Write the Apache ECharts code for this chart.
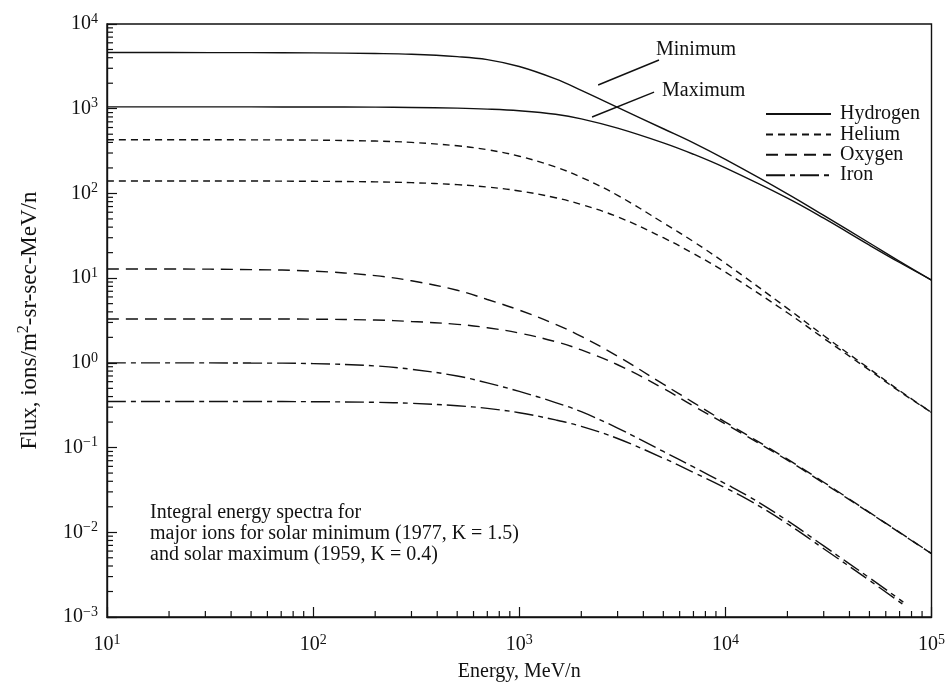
<!DOCTYPE html>
<html><head><meta charset="utf-8">
<script src="https://cdn.jsdelivr.net/npm/echarts@6/dist/echarts.min.js"></script>
<style>html,body{margin:0;padding:0;background:#fff}#c{width:948px;height:689px}</style>
</head><body><div id="c"></div>
<script>
// ---- data ----
const energy = [10, 20, 50, 100, 200, 300, 500, 700, 1000, 1500, 2000, 3000, 5000, 7000, 10000, 20000, 30000, 50000, 70000, 100000];
const hydrogenMin = [4600, 4600, 4590, 4560, 4480, 4390, 4120, 3800, 3150, 2250, 1650, 1040, 580, 395, 252, 99, 55, 26, 15.8, 9.5];
const hydrogenMax = [1050, 1050, 1050, 1048, 1043, 1035, 1015, 990, 945, 860, 760, 590, 395, 290, 200, 88, 51, 24.5, 15.3, 9.5];
const heliumMin = [430, 430, 429, 426, 415, 400, 365, 328, 275, 205, 155, 95, 45, 27, 15, 4.4, 2.1, 0.85, 0.47, 0.26];
const heliumMax = [140, 140, 140, 139, 137, 134, 127, 119, 107, 89, 74, 53, 30, 19.5, 11.8, 3.9, 1.95, 0.82, 0.46, 0.26];
const oxygenMin = [12.8, 12.8, 12.6, 12.1, 10.7, 9.3, 7.2, 5.6, 4.2, 2.85, 2.05, 1.2, 0.56, 0.34, 0.2, 0.073, 0.039, 0.0172, 0.0100, 0.0056];
const oxygenMax = [3.3, 3.3, 3.3, 3.28, 3.2, 3.08, 2.85, 2.6, 2.25, 1.78, 1.42, 0.95, 0.5, 0.31, 0.19, 0.071, 0.038, 0.0170, 0.0099, 0.0056];
const energyFe = [10, 20, 50, 100, 200, 300, 500, 700, 1000, 1500, 2000, 3000, 5000, 7000, 10000, 13000, 20000, 30000, 50000, 73000];
const ironMin = [1.0, 1.0, 0.995, 0.98, 0.92, 0.84, 0.70, 0.58, 0.46, 0.34, 0.265, 0.17, 0.09, 0.059, 0.0375, 0.0265, 0.0137, 0.0069, 0.0029, 0.0015];
const ironMax = [0.35, 0.35, 0.35, 0.348, 0.342, 0.333, 0.312, 0.29, 0.258, 0.212, 0.178, 0.128, 0.075, 0.051, 0.0335, 0.024, 0.0126, 0.0064, 0.0027, 0.0014];
const legendNames = ['Hydrogen', 'Helium', 'Oxygen', 'Iron'];
const minimumPointer = [[2414, 1905], [4764, 3758]];
const maximumPointer = [[2256, 798], [4508, 1574]];
const xMajorTicks = [10, 100, 1000, 10000, 100000];
const yMajorTicks = [0.001, 0.01, 0.1, 1, 10, 100, 1000, 10000];
const minorMultipliers = [2, 3, 4, 5, 6, 7, 8, 9];
const noteLines = ['Integral energy spectra for', 'major ions for solar minimum (1977, K = 1.5)', 'and solar maximum (1959, K = 0.4)'];

const F = '"Liberation Serif", "Times New Roman", serif';
const INK = '#111';
const pair = (xs, ys) => xs.map((x, i) => [x, ys[i]]);
const xMinor = [], yMinor = [];
xMajorTicks.slice(0, -1).forEach(d => minorMultipliers.forEach(m => xMinor.push([d * m, yMajorTicks[0]])));
yMajorTicks.slice(0, -1).forEach(d => minorMultipliers.forEach(m => yMinor.push([xMajorTicks[0], d * m])));

const expLabel = v => {
  const e = Math.round(Math.log10(v));
  return '{b|10}{s|' + (e < 0 ? '\u2212' + (-e) : e) + '}';
};
const richSup = {
  b: { fontSize: 20, fontFamily: F, color: INK },
  s: { fontSize: 14, fontFamily: F, color: INK, verticalAlign: 'bottom', padding: [0, 0, 10, 0] }
};

const styles = {
  Hydrogen: { type: 'solid' },
  Helium: { type: [7, 5] },
  Oxygen: { type: [12, 7] },
  Iron: { type: [19, 5, 5, 5] }
};
function lineSeries(name, xs, ys, extra) {
  return Object.assign({
    type: 'line', name, data: pair(xs, ys), symbol: 'none', smooth: 0.4,
    lineStyle: { color: INK, width: 1.4, type: styles[name].type }, itemStyle: { color: INK },
    silent: true, z: 3
  }, extra || {});
}
function tickSeries(data, dir) {
  return {
    type: 'custom', data, silent: true, clip: false, z: 5,
    renderItem: (params, api) => {
      const p = api.coord([api.value(0), api.value(1)]);
      const L = 6;
      return { type: 'line', shape: dir === 'x' ? { x1: p[0], y1: p[1], x2: p[0], y2: p[1] - L } : { x1: p[0], y1: p[1], x2: p[0] + L, y2: p[1] },
        style: { stroke: INK, lineWidth: 1.2 } };
    }
  };
}

const chart = echarts.init(document.getElementById('c'), null, { renderer: 'canvas' });
chart.setOption({
  backgroundColor: '#fff',
  animation: false,
  grid: { left: 107, right: 15, top: 24, bottom: 72, show: true, borderColor: INK, borderWidth: 1.4, backgroundColor: 'transparent' },
  xAxis: {
    type: 'log', logBase: 10, min: 10, max: 100000,
    name: 'Energy, MeV/n', nameLocation: 'middle', nameGap: 45,
    nameTextStyle: { fontFamily: F, fontSize: 20, color: INK },
    axisLine: { lineStyle: { color: INK, width: 1.4 } },
    axisTick: { inside: true, length: 10, lineStyle: { color: INK, width: 1.2 } },
    axisLabel: { formatter: expLabel, rich: richSup, margin: 16, color: INK },
    splitLine: { show: false }, minorTick: { show: false }
  },
  yAxis: {
    type: 'log', logBase: 10, min: 0.001, max: 10000,
    name: 'Flux, ions/m{s|2}-sr-sec-MeV/n', nameLocation: 'middle', nameGap: 64,
    nameTextStyle: { fontFamily: F, fontSize: 23, color: INK, rich: { s: { fontSize: 16, fontFamily: F, color: INK, verticalAlign: 'bottom', padding: [0, 0, 11, 0] } } },
    axisLine: { lineStyle: { color: INK, width: 1.4 } },
    axisTick: { inside: true, length: 10, lineStyle: { color: INK, width: 1.2 } },
    axisLabel: { formatter: expLabel, rich: richSup, margin: 9, color: INK },
    splitLine: { show: false }
  },
  legend: {
    data: legendNames, orient: 'vertical', left: 765, top: 104, padding: 0, itemWidth: 65, itemHeight: 14, itemGap: 0.4,
    itemStyle: { opacity: 0 },
    textStyle: { fontFamily: F, fontSize: 20, color: INK, padding: [0, 0, 0, 4] }, selectedMode: false
  },
  series: [
    lineSeries('Hydrogen', energy, hydrogenMin),
    lineSeries('Hydrogen', energy, hydrogenMax, {
      markLine: {
        silent: true, symbol: ['none', 'none'], label: { show: false },
        lineStyle: { color: INK, width: 1.4, type: 'solid' },
        data: [
          [{ coord: minimumPointer[0] }, { coord: minimumPointer[1] }],
          [{ coord: maximumPointer[0] }, { coord: maximumPointer[1] }]
        ]
      }
    }),
    lineSeries('Helium', energy, heliumMin),
    lineSeries('Helium', energy, heliumMax),
    lineSeries('Oxygen', energy, oxygenMin),
    lineSeries('Oxygen', energy, oxygenMax),
    lineSeries('Iron', energyFe, ironMin),
    lineSeries('Iron', energyFe, ironMax),
    tickSeries(xMinor, 'x'),
    tickSeries(yMinor, 'y')
  ],
  graphic: [
    { type: 'text', left: 656, top: 40, style: { text: 'Minimum', font: '20px ' + F, fill: INK } },
    { type: 'text', left: 662, top: 81, style: { text: 'Maximum', font: '20px ' + F, fill: INK } },
    { type: 'text', left: 150, top: 502, style: { text: noteLines.join('\n'), font: '20px ' + F, fill: INK, lineHeight: 21 } }
  ]
});
</script></body></html>
